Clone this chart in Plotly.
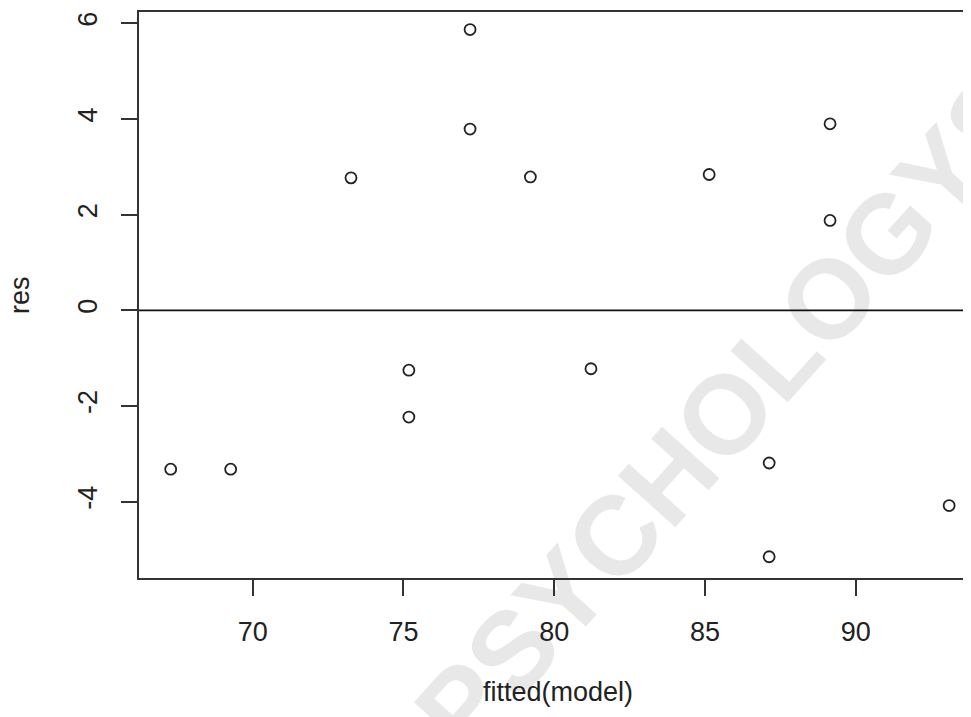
import plotly.graph_objects as go

# Data (fitted values vs residuals)
fitted = [67.28, 69.27, 73.26, 75.18, 75.18, 77.21, 77.21, 79.21, 81.22,
          85.14, 87.13, 87.13, 89.15, 89.15, 93.10]
res = [-3.32, -3.32, 2.77, -1.25, -2.23, 5.87, 3.79, 2.79, -1.22,
       2.84, -3.19, -5.15, 3.90, 1.88, -4.08]

x_ticks = [70, 75, 80, 85, 90]
y_ticks = [-4, -2, 0, 2, 4, 6]

FONT = "Liberation Sans, Arial, sans-serif"
INK = "#222222"
LINE = "#333333"

# page body has an 8px margin, so the figure is 8px smaller than the window
W, H = 963, 709
L, T, B = 131, 4, 139
PW, PH = W - L, H - T - B

fig = go.Figure()

# watermark, drawn beneath everything
cx, cy = 0.697, 0.306
fig.add_shape(type="rect", xref="paper", yref="paper",
              x0=cx - 0.2, x1=cx + 0.2, y0=cy - 0.2, y1=cy + 0.2,
              line=dict(width=0), fillcolor="rgba(0,0,0,0)", layer="below",
              label=dict(text="PSYCHOLOGYS", textangle=-48, textposition="middle center",
                         font=dict(family=FONT, size=112, color="#e8e8e8", weight="bold")))

fig.add_trace(go.Scatter(
    x=fitted, y=res, mode="markers",
    marker=dict(symbol="circle-open", size=11, color=INK, line=dict(width=1.8)),
    showlegend=False, hoverinfo="x+y",
))

# abline(h = 0)
fig.add_shape(type="line", xref="paper", yref="y", x0=0, x1=1, y0=0, y1=0,
              line=dict(color="#111111", width=1.8), layer="above")

# axis titles (positions in page pixels minus 8px body margin)
fig.add_annotation(text="fitted(model)", xref="paper", yref="paper",
                   x=(558 - 8 - L) / PW, y=(T + PH - (692 - 8)) / PH, xanchor="center",
                   yanchor="middle", showarrow=False,
                   font=dict(family=FONT, size=27, color=INK))
fig.add_annotation(text="res", xref="paper", yref="paper",
                   x=(20 - 8 - L) / PW, y=(T + PH - (295 - 8)) / PH, xanchor="center",
                   yanchor="middle", textangle=-90, showarrow=False,
                   font=dict(family=FONT, size=27, color=INK))

fig.update_layout(
    width=W, height=H,
    margin=dict(l=L, r=0, t=T, b=B),
    paper_bgcolor="white", plot_bgcolor="white",
    font=dict(family=FONT, size=27, color=INK),
    xaxis=dict(range=[66.229, 93.825], tickvals=x_ticks, ticktext=[str(v) for v in x_ticks],
               showgrid=False, zeroline=False, showline=True, mirror=True,
               linecolor=LINE, linewidth=2, ticks="outside", ticklen=16,
               tickwidth=2, tickcolor=LINE, ticklabelstandoff=13),
    yaxis=dict(range=[-5.594, 6.237], tickvals=y_ticks, ticktext=[str(v) for v in y_ticks],
               showgrid=False, zeroline=False, showline=True, mirror=False,
               linecolor=LINE, linewidth=2, ticks="outside", ticklen=16,
               tickwidth=2, tickcolor=LINE, tickangle=-90, ticklabelstandoff=13),
)

fig.write_html("out.html")
